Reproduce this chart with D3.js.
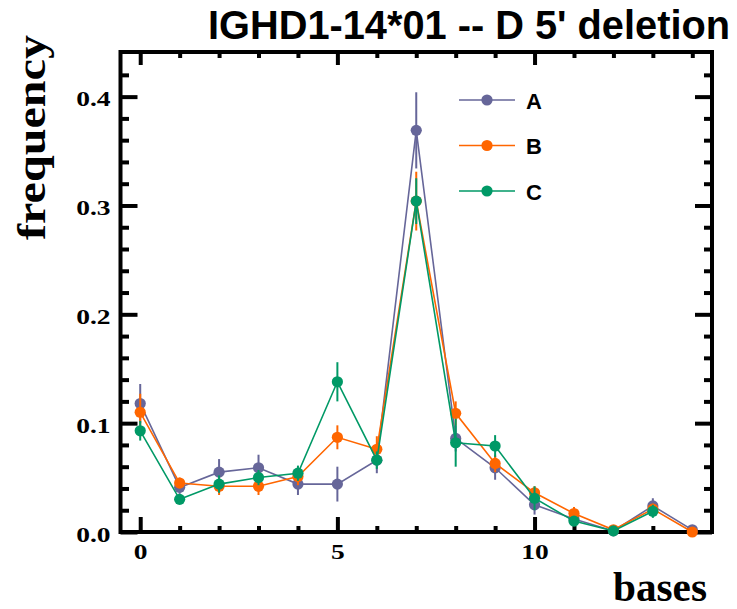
<!DOCTYPE html>
<html>
<head>
<meta charset="utf-8">
<script src="https://cdn.jsdelivr.net/npm/d3@7"></script>
<style>
  html, body { margin: 0; padding: 0; background: #fff; }
  svg { display: block; }
</style>
</head>
<body>
<svg id="chart" width="737" height="609"></svg>
<script>
// ---- data ----
const bases = [0, 1, 2, 3, 4, 5, 6, 7, 8, 9, 10, 11, 12, 13, 14];
const seriesNames = ["A", "B", "C"];
const seriesColors = ["#666699", "#ff6600", "#009966"];

const freqA = [0.118, 0.041, 0.055, 0.059, 0.044, 0.044, 0.066, 0.369, 0.086, 0.059, 0.025, 0.012, 0.001, 0.024, 0.002];
const errA  = [0.018, 0.006, 0.012, 0.012, 0.010, 0.016, 0.012, 0.035, 0.012, 0.011, 0.009, 0.004, 0.002, 0.007, 0.002];
const freqB = [0.110, 0.045, 0.042, 0.042, 0.051, 0.087, 0.076, 0.304, 0.109, 0.063, 0.036, 0.017, 0.002, 0.021, 0.000];
const errB  = [0.017, 0.005, 0.008, 0.008, 0.008, 0.011, 0.012, 0.027, 0.011, 0.008, 0.006, 0.006, 0.002, 0.005, 0.001];
const freqC = [0.093, 0.030, 0.044, 0.050, 0.054, 0.138, 0.066, 0.304, 0.082, 0.079, 0.031, 0.010, 0.001, 0.019];
const errC  = [0.009, 0.004, 0.008, 0.007, 0.007, 0.018, 0.008, 0.021, 0.022, 0.010, 0.011, 0.004, 0.001, 0.006];

const xMajorTicks = [0, 5, 10];
const xMinorTicks = [1, 2, 3, 4, 6, 7, 8, 9, 11, 12, 13, 14];
const yMajorTicks = [0.0, 0.1, 0.2, 0.3, 0.4];
const yMinorTicks = [0.02, 0.04, 0.06, 0.08, 0.12, 0.14, 0.16, 0.18, 0.22, 0.24, 0.26, 0.28, 0.32, 0.34, 0.36, 0.38, 0.42];

const titleText = "IGHD1-14*01 -- D 5' deletion";
const xLabel = "bases";
const yLabel = "frequency";

// ---- layout ----
const svg = d3.select("#chart");
const plot = { left: 120.5, right: 712, top: 52, bottom: 532 };

const x = d3.scaleLinear().domain([-0.5, 14.5]).range([plot.left, plot.right]);
const y = d3.scaleLinear().domain([0, 0.441]).range([plot.bottom, plot.top]);

const serif = "'Liberation Serif', 'Times New Roman', serif";
const sans = "'Liberation Sans', Arial, sans-serif";

// ---- axes: ticks on all four sides, pointing inward ----
function styleAxis(g) {
  g.select(".domain").remove();
  g.selectAll(".tick line").attr("stroke", "#000").attr("stroke-width", 4);
}
function stretchLabels(g, factor) {
  g.selectAll(".tick text")
    .attr("fill", "#000")
    .style("font-family", serif)
    .style("font-weight", "bold")
    .style("font-size", "22px")
    .each(function () {
      const w = this.getComputedTextLength();
      d3.select(this).attr("textLength", w * factor).attr("lengthAdjust", "spacingAndGlyphs");
    });
}

// bottom
svg.append("g").attr("transform", `translate(0,${plot.bottom})`)
  .call(d3.axisBottom(x).tickValues(xMajorTicks).tickSizeInner(-15).tickSizeOuter(0)
    .tickPadding(11.5).tickFormat(d3.format("d")))
  .call(styleAxis).call(g => stretchLabels(g, 1.25));
svg.append("g").attr("transform", `translate(0,${plot.bottom})`)
  .call(d3.axisBottom(x).tickValues(xMinorTicks).tickSizeInner(-6).tickSizeOuter(0).tickFormat(""))
  .call(styleAxis);

// top
svg.append("g").attr("transform", `translate(0,${plot.top})`)
  .call(d3.axisTop(x).tickValues(xMajorTicks).tickSizeInner(-13).tickSizeOuter(0).tickFormat(""))
  .call(styleAxis);
svg.append("g").attr("transform", `translate(0,${plot.top})`)
  .call(d3.axisTop(x).tickValues(xMinorTicks).tickSizeInner(-6).tickSizeOuter(0).tickFormat(""))
  .call(styleAxis);

// left
const leftAxis = svg.append("g").attr("transform", `translate(${plot.left},0)`)
  .call(d3.axisLeft(y).tickValues(yMajorTicks).tickSizeInner(-17).tickSizeOuter(0)
    .tickPadding(10).tickFormat(d3.format(".1f")))
  .call(styleAxis).call(g => stretchLabels(g, 1.25));
leftAxis.selectAll(".tick text").attr("dy", "0.42em");
svg.append("g").attr("transform", `translate(${plot.left},0)`)
  .call(d3.axisLeft(y).tickValues(yMinorTicks).tickSizeInner(-8.5).tickSizeOuter(0).tickFormat(""))
  .call(styleAxis);

// right
svg.append("g").attr("transform", `translate(${plot.right},0)`)
  .call(d3.axisRight(y).tickValues(yMajorTicks).tickSizeInner(-17).tickSizeOuter(0).tickFormat(""))
  .call(styleAxis);
svg.append("g").attr("transform", `translate(${plot.right},0)`)
  .call(d3.axisRight(y).tickValues(yMinorTicks).tickSizeInner(-8).tickSizeOuter(0).tickFormat(""))
  .call(styleAxis);

// frame
svg.append("rect")
  .attr("x", plot.left).attr("y", plot.top)
  .attr("width", plot.right - plot.left).attr("height", plot.bottom - plot.top)
  .attr("fill", "none").attr("stroke", "#000").attr("stroke-width", 4);

// ---- series: line, error bars, markers ----
const seriesValues = [freqA, freqB, freqC];
const seriesErrors = [errA, errB, errC];

const line = d3.line().x(d => x(d.b)).y(d => y(d.v));

seriesNames.forEach((name, i) => {
  const pts = seriesValues[i].map((v, j) => ({ b: bases[j], v: v, e: seriesErrors[i][j] }));
  const g = svg.append("g").attr("class", "series-" + name);
  const color = seriesColors[i];

  g.append("path").datum(pts)
    .attr("d", line).attr("fill", "none")
    .attr("stroke", color).attr("stroke-width", 1.6);

  g.selectAll("line.err").data(pts).join("line").attr("class", "err")
    .attr("x1", d => x(d.b)).attr("x2", d => x(d.b))
    .attr("y1", d => y(Math.max(0, d.v - d.e))).attr("y2", d => y(d.v + d.e))
    .attr("stroke", color).attr("stroke-width", 2);

  g.selectAll("circle").data(pts).join("circle")
    .attr("cx", d => x(d.b)).attr("cy", d => y(d.v)).attr("r", 5.6)
    .attr("fill", color);
});

// ---- legend ----
const legend = svg.append("g").attr("transform", "translate(459,100)");
seriesNames.forEach((name, i) => {
  const row = legend.append("g").attr("transform", `translate(0,${i * 45.5})`);
  row.append("line").attr("x1", 0).attr("x2", 56).attr("y1", 0).attr("y2", 0)
    .attr("stroke", seriesColors[i]).attr("stroke-width", 1.6);
  row.append("circle").attr("cx", 28).attr("cy", 0).attr("r", 5.6).attr("fill", seriesColors[i]);
  row.append("text").attr("x", 67).attr("y", 8.5)
    .style("font-family", sans).style("font-weight", "bold").style("font-size", "22px")
    .attr("fill", "#000").text(name);
});

// ---- titles ----
svg.append("text")
  .attr("x", 208).attr("y", 39)
  .attr("textLength", 522).attr("lengthAdjust", "spacingAndGlyphs")
  .style("font-family", "'Liberation Sans Narrow', 'Liberation Sans', Arial, sans-serif")
  .style("font-weight", "bold").style("font-size", "40px")
  .attr("fill", "#000").text(titleText);

svg.append("text")
  .attr("x", 707).attr("y", 601).attr("text-anchor", "end")
  .attr("textLength", 94).attr("lengthAdjust", "spacingAndGlyphs")
  .style("font-family", serif).style("font-weight", "bold").style("font-size", "42px")
  .attr("fill", "#000").text(xLabel);

svg.append("text")
  .attr("transform", "translate(45,137.5) rotate(-90)")
  .attr("text-anchor", "middle")
  .attr("textLength", 205).attr("lengthAdjust", "spacingAndGlyphs")
  .style("font-family", serif).style("font-weight", "bold").style("font-size", "39px")
  .attr("fill", "#000").text(yLabel);
</script>
</body>
</html>
